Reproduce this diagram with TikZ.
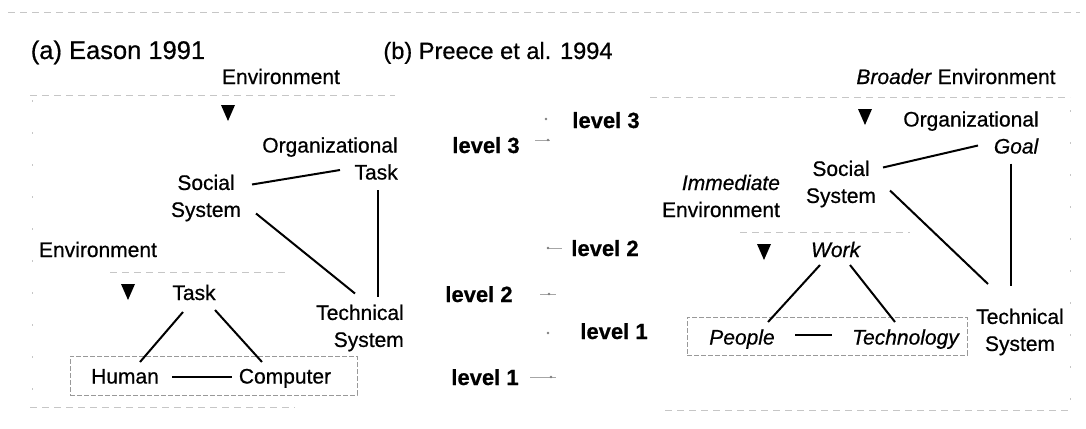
\documentclass[tikz,border=0pt]{standalone}
\usepackage{fontspec}
\setmainfont{Liberation Sans}[FakeBold=0.6]
\usetikzlibrary{calc}
\begin{document}
\begin{tikzpicture}[x=1pt,y=-1pt,
  lbl/.style={inner sep=0pt,font=\fontsize{21}{27}\selectfont},
  ttl/.style={inner sep=0pt,font=\fontsize{25.5}{28}\selectfont},
  lvl/.style={inner sep=0pt,font=\fontsize{22}{26}\selectfont\bfseries},
  link/.style={line width=2pt,black},
  faint/.style={gray!45,line width=0.8pt,dash pattern=on 7pt off 5pt},
  sparse/.style={gray!45,line width=0.8pt,dash pattern=on 2pt off 30pt},
  tick/.style={gray!70,line width=0.8pt},
  envbox/.style={draw=gray!80,line width=0.8pt,dash pattern=on 5pt off 2pt,inner sep=0pt},
  downtri/.pic={\fill[black] (-7,-8) -- (7,-8) -- (0,8) -- cycle;}]
\useasboundingbox (0,0) rectangle (1086,428);
\fill[white] (0,0) rectangle (1086,428);

% faint boundary lines
\draw[faint] (8,12) -- (1080,12);
\draw[faint] (30,95) -- (395,95);
\draw[faint] (110,272) -- (285,272);
\draw[faint] (30,407) -- (295,407);
\draw[faint] (650,97) -- (1070,97);
\draw[faint] (740,232) -- (910,232);
\draw[faint] (665,410) -- (1070,410);
\draw[sparse] (32,100) -- (32,390);
\draw[sparse] (1070,110) -- (1070,400);

% (a) Eason 1991
\node[ttl,anchor=base] (titleA) at (118,59) {(a) Eason 1991};
\node[lbl,anchor=base] (envA) at (281,84) {Environment};
\node[lbl,align=right] (orgA) at (330,158.5) {Organizational\\Task};
\node[lbl,align=center] (socA) at (206,198) {Social\\System};
\node[lbl,align=right] (techA) at (360,328) {Technical\\System};
\node[lbl,anchor=base] (envA2) at (98,257) {Environment};
\node[lbl,anchor=base] (taskA) at (194,300) {Task};
\node[envbox,minimum width=287pt,minimum height=39pt] (boxA) at (213.5,375.5) {};
\node[lbl,anchor=base] (humA) at (125,383.5) {Human};
\node[lbl,anchor=base] (compA) at (285,383.5) {Computer};
\pic at (228,113) {downtri};
\pic at (128,292) {downtri};

\draw[link] ($(socA.center)+(46,-13.5)$) -- ($(orgA.center)+(10,11.5)$);
\draw[link] ($(socA.center)+(50,15.5)$) -- ($(techA.center)+(-5,-34.5)$);
\draw[link] ($(orgA.center)+(48,31.5)$) -- ($(techA.center)+(18,-31.5)$);
\draw[link] ($(taskA.base)+(-11,12)$) -- ($(humA.base)+(15,-21.5)$);
\draw[link] ($(taskA.base)+(21,10)$) -- ($(compA.base)+(-23,-21.5)$);
\draw[link] ($(humA.base)+(47,-6.5)$) -- ($(compA.base)+(-53,-6.5)$);

% levels
\node[lvl,anchor=base] (lvl3a) at (486,153) {level 3};
\node[lvl,anchor=base] (lvl3b) at (606,128) {level 3};
\node[lvl,anchor=base] (lvl2b) at (605,256) {level 2};
\node[lvl,anchor=base] (lvl2a) at (479,302) {level 2};
\node[lvl,anchor=base] (lvl1b) at (614,339) {level 1};
\node[lvl,anchor=base] (lvl1a) at (485,385) {level 1};
\draw[tick] ($(lvl3a.base)+(49,-13)$) -- ($(lvl3a.base)+(64,-13)$);
\fill[gray] ($(lvl3a.base)+(62,-13)$) circle (1.3);
\fill[gray] ($(lvl3b.base)+(-60,-9)$) circle (1.3);
\draw[tick] ($(lvl2b.base)+(-58,-8)$) -- ($(lvl2b.base)+(-43,-8)$);
\fill[gray] ($(lvl2b.base)+(-57,-8)$) circle (1.3);
\draw[tick] ($(lvl2a.base)+(61,-8)$) -- ($(lvl2a.base)+(77,-8)$);
\fill[gray] ($(lvl2a.base)+(70,-8)$) circle (1.3);
\fill[gray] ($(lvl1b.base)+(-66,-6)$) circle (1.3);
\draw[tick] ($(lvl1a.base)+(45,-8)$) -- ($(lvl1a.base)+(71,-8)$);
\fill[gray] ($(lvl1a.base)+(66,-8)$) circle (1.3);

% (b) Preece et al. 1994
\node[inner sep=0pt,font=\fontsize{23.6}{28}\selectfont,anchor=base] (titleB) at (498,59) {(b) Preece et al. 1994};
\node[lbl,anchor=base] (envB) at (956,84) {\textit{Broader} Environment};
\node[lbl,align=right] (orgB) at (971,132.5) {Organizational\\\textit{Goal}};
\node[lbl,align=center] (socB) at (841,184) {Social\\System};
\node[lbl,align=right] (immB) at (721,196) {\textit{Immediate}\\Environment};
\node[lbl,anchor=base] (workB) at (836,257) {\textit{Work}};
\node[envbox,minimum width=280pt,minimum height=38pt] (boxB) at (827,336) {};
\node[lbl,anchor=base] (peopB) at (742,344.5) {\textit{People}};
\node[lbl,anchor=base] (techB2) at (906,344.5) {\textit{Technology}};
\node[lbl,align=center] (techB) at (1020,332) {Technical\\System};
\pic at (865,117) {downtri};
\pic at (764,252) {downtri};

\draw[link] ($(socB.center)+(42,-16.5)$) -- ($(orgB.center)+(7,13)$);
\draw[link] ($(socB.center)+(49,6.5)$) -- ($(techB.center)+(-32,-48)$);
\draw[link] ($(orgB.center)+(40,31)$) -- ($(techB.center)+(-9,-46)$);
\draw[link] ($(workB.base)+(-16,8)$) -- ($(peopB.base)+(26,-22.5)$);
\draw[link] ($(workB.base)+(14,8)$) -- ($(techB2.base)+(-11,-22.5)$);
\draw[link] ($(peopB.base)+(53,-9.5)$) -- ($(techB2.base)+(-74,-9.5)$);
\end{tikzpicture}
\end{document}
